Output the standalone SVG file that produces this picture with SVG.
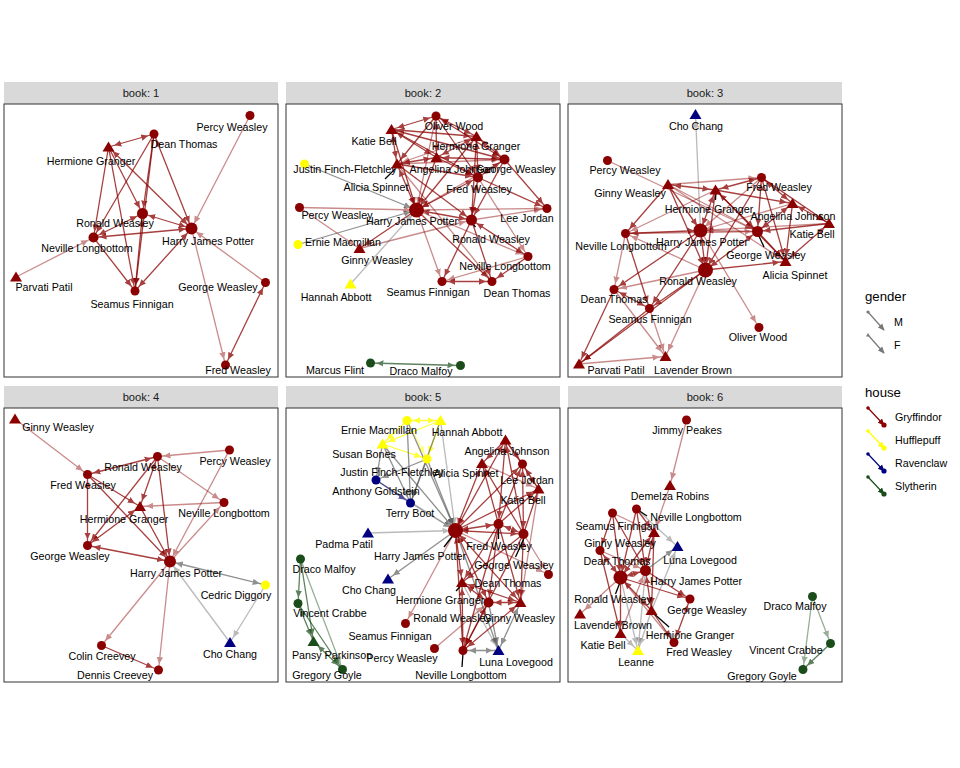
<svg xmlns="http://www.w3.org/2000/svg" xmlns:xlink="http://www.w3.org/1999/xlink" width="960" height="768" viewBox="0 0 960 768">
<style>
.strip{fill:#D9D9D9}
.panel{fill:#fff;stroke:#333;stroke-width:1}
.st{font:11.2px "Liberation Sans",Arial,sans-serif;fill:#1a1a1a;text-anchor:middle}
.l{font:10.7px "Liberation Sans",Arial,sans-serif;fill:#000;text-anchor:middle}
.lt{font:13.2px "Liberation Sans",Arial,sans-serif;fill:#000}
.li{font:10.7px "Liberation Sans",Arial,sans-serif;fill:#000}
.gry{fill:#8B0000}.huf{fill:#FFFF00}.rav{fill:#000080}.sly{fill:#1a4d1a}
#edges line{stroke-width:1.3;fill:none}
.r,.rb{stroke:#8B0000;opacity:.75;marker-end:url(#ar)}
.rl{stroke:#8B0000;opacity:.45;marker-end:url(#ar)}
.rb{marker-start:url(#ar)}
.g,.gb{stroke:#555;opacity:.65;marker-end:url(#ag)}
.gl{stroke:#555;opacity:.4;marker-end:url(#ag)}
.gb{marker-start:url(#ag)}
.y,.yb{stroke:#FFFF00;opacity:.8;marker-end:url(#ay)}
.yl{stroke:#FFFF00;opacity:.5;marker-end:url(#ay)}
.yb{marker-start:url(#ay)}
.b{stroke:#000080;opacity:.7;marker-end:url(#ab)}
.s,.sb{stroke:#1a4d1a;opacity:.7;marker-end:url(#as)}
.sl{stroke:#1a4d1a;opacity:.45;marker-end:url(#as)}
.sb{marker-start:url(#as)}
.ld{stroke:#000;stroke-width:1}
</style>
<defs>
<path id="t" d="M0,-5.5 L6,4.5 L-6,4.5 z"/>
<marker id="ar" viewBox="0 0 14 8" refX="13" refY="4" markerWidth="14" markerHeight="8" markerUnits="userSpaceOnUse" orient="auto-start-reverse"><path d="M0,0.8 L7,4 L0,7.2 z" fill="#8B0000"/></marker>
<marker id="ag" viewBox="0 0 14 8" refX="13" refY="4" markerWidth="14" markerHeight="8" markerUnits="userSpaceOnUse" orient="auto-start-reverse"><path d="M0,0.8 L7,4 L0,7.2 z" fill="#555"/></marker>
<marker id="ay" viewBox="0 0 14 8" refX="13" refY="4" markerWidth="14" markerHeight="8" markerUnits="userSpaceOnUse" orient="auto-start-reverse"><path d="M0,0.8 L7,4 L0,7.2 z" fill="#FFFF00"/></marker>
<marker id="ab" viewBox="0 0 14 8" refX="13" refY="4" markerWidth="14" markerHeight="8" markerUnits="userSpaceOnUse" orient="auto-start-reverse"><path d="M0,0.8 L7,4 L0,7.2 z" fill="#000080"/></marker>
<marker id="as" viewBox="0 0 14 8" refX="13" refY="4" markerWidth="14" markerHeight="8" markerUnits="userSpaceOnUse" orient="auto-start-reverse"><path d="M0,0.8 L7,4 L0,7.2 z" fill="#1a4d1a"/></marker>
<marker id="kar" viewBox="0 0 8 8" refX="7" refY="4" markerWidth="7" markerHeight="7" markerUnits="userSpaceOnUse" orient="auto"><path d="M0,0.5 L8,4 L0,7.5 z" fill="context-stroke"/></marker>
</defs>
<rect width="960" height="768" fill="#fff"/>

<g id="panels">
<rect class="strip" x="4" y="82" width="274" height="22"/><text class="st" x="141" y="97">book: 1</text>
<rect class="strip" x="286" y="82" width="274" height="22"/><text class="st" x="423" y="97">book: 2</text>
<rect class="strip" x="568" y="82" width="274" height="22"/><text class="st" x="705" y="97">book: 3</text>
<rect class="strip" x="4" y="386" width="274" height="22"/><text class="st" x="141" y="401">book: 4</text>
<rect class="strip" x="286" y="386" width="274" height="22"/><text class="st" x="423" y="401">book: 5</text>
<rect class="strip" x="568" y="386" width="274" height="22"/><text class="st" x="705" y="401">book: 6</text>
<rect class="panel" x="4" y="104" width="274" height="273"/>
<rect class="panel" x="286" y="104" width="274" height="273"/>
<rect class="panel" x="568" y="104" width="274" height="273"/>
<rect class="panel" x="4" y="408" width="274" height="274"/>
<rect class="panel" x="286" y="408" width="274" height="274"/>
<rect class="panel" x="568" y="408" width="274" height="274"/>
</g>

<g id="edges">
<!-- book 1 -->
<line class="rb" x1="154" y1="134" x2="108.5" y2="147"/>
<line class="r" x1="154" y1="134" x2="142.5" y2="213.5"/>
<line class="rb" x1="154" y1="134" x2="191.5" y2="228.5"/>
<line class="r" x1="154" y1="134" x2="135" y2="291"/>
<line class="r" x1="154" y1="134" x2="93.5" y2="237.5"/>
<line class="r" x1="108.5" y1="147" x2="93.5" y2="237.5"/>
<line class="r" x1="108.5" y1="147" x2="142.5" y2="213.5"/>
<line class="rb" x1="108.5" y1="147" x2="191.5" y2="228.5"/>
<line class="r" x1="108.5" y1="147" x2="135" y2="291"/>
<line class="rb" x1="142.5" y1="213.5" x2="191.5" y2="228.5"/>
<line class="rb" x1="93.5" y1="237.5" x2="142.5" y2="213.5"/>
<line class="rb" x1="142.5" y1="213.5" x2="135" y2="291"/>
<line class="rb" x1="93.5" y1="237.5" x2="191.5" y2="228.5"/>
<line class="r" x1="93.5" y1="237.5" x2="135" y2="291"/>
<line class="rb" x1="191.5" y1="228.5" x2="135" y2="291"/>
<line class="rl" x1="250" y1="115.5" x2="191.5" y2="228.5"/>
<line class="rl" x1="16" y1="277" x2="93.5" y2="237.5"/>
<line class="rl" x1="265.5" y1="282.5" x2="191.5" y2="228.5"/>
<line class="rl" x1="191.5" y1="228.5" x2="225.5" y2="365"/>
<line class="rb" x1="225.5" y1="365" x2="265.5" y2="282.5"/>
<!-- book 2 -->
<line class="rb" x1="391.5" y1="129.5" x2="436" y2="116"/>
<line class="rb" x1="391.5" y1="129.5" x2="476.5" y2="136.5"/>
<line class="rb" x1="391.5" y1="129.5" x2="436.5" y2="157.5"/>
<line class="r" x1="391.5" y1="129.5" x2="504.5" y2="159.5"/>
<line class="r" x1="391.5" y1="129.5" x2="478" y2="177.5"/>
<line class="rb" x1="391.5" y1="129.5" x2="397" y2="164"/>
<line class="r" x1="391.5" y1="129.5" x2="416.5" y2="210"/>
<line class="rb" x1="436" y1="116" x2="476.5" y2="136.5"/>
<line class="rb" x1="436" y1="116" x2="436.5" y2="157.5"/>
<line class="rb" x1="436" y1="116" x2="504.5" y2="159.5"/>
<line class="r" x1="436" y1="116" x2="478" y2="177.5"/>
<line class="r" x1="436" y1="116" x2="397" y2="164"/>
<line class="rl" x1="436" y1="116" x2="416.5" y2="210"/>
<line class="rb" x1="476.5" y1="136.5" x2="504.5" y2="159.5"/>
<line class="rb" x1="476.5" y1="136.5" x2="478" y2="177.5"/>
<line class="rb" x1="476.5" y1="136.5" x2="436.5" y2="157.5"/>
<line class="rb" x1="476.5" y1="136.5" x2="416.5" y2="210"/>
<line class="r" x1="476.5" y1="136.5" x2="471.5" y2="220"/>
<line class="rl" x1="476.5" y1="136.5" x2="397" y2="164"/>
<line class="rb" x1="436.5" y1="157.5" x2="504.5" y2="159.5"/>
<line class="rb" x1="436.5" y1="157.5" x2="397" y2="164"/>
<line class="r" x1="436.5" y1="157.5" x2="478" y2="177.5"/>
<line class="r" x1="436.5" y1="157.5" x2="416.5" y2="210"/>
<line class="rl" x1="397" y1="164" x2="504.5" y2="159.5"/>
<line class="r" x1="397" y1="164" x2="478" y2="177.5"/>
<line class="rb" x1="397" y1="164" x2="416.5" y2="210"/>
<line class="r" x1="397" y1="164" x2="471.5" y2="220"/>
<line class="rl" x1="397" y1="164" x2="492" y2="281.5"/>
<line class="rb" x1="504.5" y1="159.5" x2="478" y2="177.5"/>
<line class="r" x1="504.5" y1="159.5" x2="547" y2="208.5"/>
<line class="rl" x1="504.5" y1="159.5" x2="416.5" y2="210"/>
<line class="r" x1="504.5" y1="159.5" x2="471.5" y2="220"/>
<line class="rb" x1="478" y1="177.5" x2="416.5" y2="210"/>
<line class="rb" x1="478" y1="177.5" x2="471.5" y2="220"/>
<line class="r" x1="478" y1="177.5" x2="547" y2="208.5"/>
<line class="rl" x1="478" y1="177.5" x2="528" y2="256.5"/>
<line class="rb" x1="416.5" y1="210" x2="471.5" y2="220"/>
<line class="rl" x1="416.5" y1="210" x2="547" y2="208.5"/>
<line class="rl" x1="471.5" y1="220" x2="547" y2="208.5"/>
<line class="r" x1="416.5" y1="210" x2="359.5" y2="248.5"/>
<line class="rl" x1="299.5" y1="207.5" x2="416.5" y2="210"/>
<line class="rl" x1="299.5" y1="207.5" x2="359.5" y2="248.5"/>
<line class="rl" x1="359.5" y1="248.5" x2="471.5" y2="220"/>
<line class="rl" x1="416.5" y1="210" x2="442" y2="281.5"/>
<line class="r" x1="416.5" y1="210" x2="492" y2="281.5"/>
<line class="rl" x1="416.5" y1="210" x2="528" y2="256.5"/>
<line class="r" x1="471.5" y1="220" x2="442" y2="281.5"/>
<line class="r" x1="471.5" y1="220" x2="492" y2="281.5"/>
<line class="rb" x1="471.5" y1="220" x2="528" y2="256.5"/>
<line class="rl" x1="528" y1="256.5" x2="442" y2="281.5"/>
<line class="r" x1="528" y1="256.5" x2="492" y2="281.5"/>
<line class="rb" x1="442" y1="281.5" x2="492" y2="281.5"/>
<line class="g" x1="304.5" y1="164" x2="416.5" y2="210"/>
<line class="g" x1="298" y1="244.5" x2="416.5" y2="210"/>
<line class="gl" x1="350.5" y1="284" x2="416.5" y2="210"/>
<line class="sb" x1="370.5" y1="363" x2="460.5" y2="365.5"/>
<!-- book 3 -->
<line class="gl" x1="700.5" y1="230.5" x2="695.5" y2="114.5"/>
<line class="rl" x1="607.5" y1="160.5" x2="757.5" y2="231.5"/>
<line class="rb" x1="668" y1="184.5" x2="715.5" y2="190"/>
<line class="rl" x1="668" y1="184.5" x2="761.5" y2="177.5"/>
<line class="r" x1="668" y1="184.5" x2="625.5" y2="233.5"/>
<line class="r" x1="668" y1="184.5" x2="700.5" y2="230.5"/>
<line class="r" x1="668" y1="184.5" x2="705.5" y2="270"/>
<line class="rl" x1="668" y1="184.5" x2="757.5" y2="231.5"/>
<line class="rl" x1="668" y1="184.5" x2="785.5" y2="261.5"/>
<line class="rb" x1="715.5" y1="190" x2="761.5" y2="177.5"/>
<line class="rb" x1="715.5" y1="190" x2="700.5" y2="230.5"/>
<line class="r" x1="715.5" y1="190" x2="705.5" y2="270"/>
<line class="rb" x1="715.5" y1="190" x2="757.5" y2="231.5"/>
<line class="r" x1="715.5" y1="190" x2="792.5" y2="203.5"/>
<line class="r" x1="715.5" y1="190" x2="785.5" y2="261.5"/>
<line class="rl" x1="715.5" y1="190" x2="625.5" y2="233.5"/>
<line class="rb" x1="761.5" y1="177.5" x2="757.5" y2="231.5"/>
<line class="rb" x1="761.5" y1="177.5" x2="792.5" y2="203.5"/>
<line class="r" x1="761.5" y1="177.5" x2="829" y2="223.5"/>
<line class="r" x1="761.5" y1="177.5" x2="785.5" y2="261.5"/>
<line class="r" x1="761.5" y1="177.5" x2="705.5" y2="270"/>
<line class="rl" x1="761.5" y1="177.5" x2="700.5" y2="230.5"/>
<line class="rb" x1="792.5" y1="203.5" x2="757.5" y2="231.5"/>
<line class="rb" x1="792.5" y1="203.5" x2="829" y2="223.5"/>
<line class="r" x1="792.5" y1="203.5" x2="785.5" y2="261.5"/>
<line class="rl" x1="792.5" y1="203.5" x2="700.5" y2="230.5"/>
<line class="rb" x1="829" y1="223.5" x2="785.5" y2="261.5"/>
<line class="rl" x1="829" y1="223.5" x2="700.5" y2="230.5"/>
<line class="r" x1="829" y1="223.5" x2="757.5" y2="231.5"/>
<line class="r" x1="757.5" y1="231.5" x2="785.5" y2="261.5"/>
<line class="rb" x1="757.5" y1="231.5" x2="705.5" y2="270"/>
<line class="rl" x1="757.5" y1="231.5" x2="700.5" y2="230.5"/>
<line class="rb" x1="700.5" y1="230.5" x2="705.5" y2="270"/>
<line class="rb" x1="700.5" y1="230.5" x2="625.5" y2="233.5"/>
<line class="r" x1="700.5" y1="230.5" x2="614" y2="289.5"/>
<line class="r" x1="700.5" y1="230.5" x2="649.5" y2="308.5"/>
<line class="rl" x1="700.5" y1="230.5" x2="759" y2="327.5"/>
<line class="rl" x1="705.5" y1="270" x2="625.5" y2="233.5"/>
<line class="rl" x1="705.5" y1="270" x2="614" y2="289.5"/>
<line class="r" x1="705.5" y1="270" x2="649.5" y2="308.5"/>
<line class="rl" x1="705.5" y1="270" x2="665.5" y2="356.5"/>
<line class="r" x1="705.5" y1="270" x2="785.5" y2="261.5"/>
<line class="r" x1="705.5" y1="270" x2="579" y2="364"/>
<line class="rl" x1="625.5" y1="233.5" x2="614" y2="289.5"/>
<line class="r" x1="625.5" y1="233.5" x2="649.5" y2="308.5"/>
<line class="rl" x1="625.5" y1="233.5" x2="757.5" y2="231.5"/>
<line class="rb" x1="614" y1="289.5" x2="649.5" y2="308.5"/>
<line class="r" x1="614" y1="289.5" x2="579" y2="364"/>
<line class="rl" x1="614" y1="289.5" x2="665.5" y2="356.5"/>
<line class="r" x1="649.5" y1="308.5" x2="579" y2="364"/>
<line class="rl" x1="649.5" y1="308.5" x2="665.5" y2="356.5"/>
<line class="rl" x1="579" y1="364" x2="665.5" y2="356.5"/>
<!-- book 4 -->
<line class="rl" x1="15" y1="419" x2="87.5" y2="474.5"/>
<line class="rb" x1="87.5" y1="474.5" x2="157.5" y2="456.5"/>
<line class="rl" x1="229.5" y1="450" x2="157.5" y2="456.5"/>
<line class="rl" x1="157.5" y1="456.5" x2="224" y2="502.5"/>
<line class="rb" x1="157.5" y1="456.5" x2="140" y2="506.5"/>
<line class="r" x1="157.5" y1="456.5" x2="87.5" y2="545.5"/>
<line class="r" x1="157.5" y1="456.5" x2="170" y2="561.5"/>
<line class="r" x1="87.5" y1="474.5" x2="140" y2="506.5"/>
<line class="rb" x1="87.5" y1="474.5" x2="87.5" y2="545.5"/>
<line class="r" x1="87.5" y1="474.5" x2="170" y2="561.5"/>
<line class="rl" x1="224" y1="502.5" x2="140" y2="506.5"/>
<line class="rb" x1="140" y1="506.5" x2="87.5" y2="545.5"/>
<line class="r" x1="140" y1="506.5" x2="170" y2="561.5"/>
<line class="rb" x1="87.5" y1="545.5" x2="170" y2="561.5"/>
<line class="rl" x1="170" y1="561.5" x2="224" y2="502.5"/>
<line class="rl" x1="229.5" y1="450" x2="170" y2="561.5"/>
<line class="gb" x1="170" y1="561.5" x2="265.5" y2="585"/>
<line class="gl" x1="265.5" y1="585" x2="230" y2="642.5"/>
<line class="gl" x1="230" y1="642.5" x2="170" y2="561.5"/>
<line class="rl" x1="170" y1="561.5" x2="101.5" y2="645.5"/>
<line class="rl" x1="170" y1="561.5" x2="158.5" y2="670"/>
<line class="r" x1="101.5" y1="645.5" x2="158.5" y2="670"/>
<!-- book 5 -->
<line class="yb" x1="407" y1="420.5" x2="440.5" y2="420.5"/>
<line class="y" x1="407" y1="420.5" x2="382.5" y2="444"/>
<line class="y" x1="440.5" y1="420.5" x2="382.5" y2="444"/>
<line class="y" x1="440.5" y1="420.5" x2="427" y2="459"/>
<line class="y" x1="382.5" y1="444" x2="427" y2="459"/>
<line class="yl" x1="407" y1="420.5" x2="427" y2="459"/>
<line class="g" x1="407" y1="420.5" x2="410.5" y2="503"/>
<line class="g" x1="407" y1="420.5" x2="455.5" y2="530.5"/>
<line class="gl" x1="440.5" y1="420.5" x2="455.5" y2="530.5"/>
<line class="g" x1="440.5" y1="420.5" x2="410.5" y2="503"/>
<line class="g" x1="382.5" y1="444" x2="410.5" y2="503"/>
<line class="g" x1="382.5" y1="444" x2="455.5" y2="530.5"/>
<line class="g" x1="382.5" y1="444" x2="376" y2="480"/>
<line class="g" x1="427" y1="459" x2="410.5" y2="503"/>
<line class="g" x1="427" y1="459" x2="455.5" y2="530.5"/>
<line class="g" x1="427" y1="459" x2="376" y2="480"/>
<line class="gl" x1="410.5" y1="503" x2="455.5" y2="530.5"/>
<line class="b" x1="376" y1="480" x2="410.5" y2="503"/>
<line class="gl" x1="376" y1="480" x2="455.5" y2="530.5"/>
<line class="gl" x1="368" y1="533" x2="455.5" y2="530.5"/>
<line class="g" x1="455.5" y1="530.5" x2="388" y2="579"/>
<line class="g" x1="455.5" y1="530.5" x2="498.5" y2="650.5"/>
<line class="gl" x1="462" y1="582.5" x2="498.5" y2="650.5"/>
<line class="g" x1="488.5" y1="602.5" x2="498.5" y2="650.5"/>
<line class="gb" x1="520.5" y1="602.5" x2="498.5" y2="650.5"/>
<line class="gb" x1="463" y1="650.5" x2="498.5" y2="650.5"/>
<line class="rb" x1="455.5" y1="530.5" x2="505.5" y2="440"/>
<line class="rb" x1="455.5" y1="530.5" x2="482" y2="463.5"/>
<line class="r" x1="455.5" y1="530.5" x2="522.5" y2="464"/>
<line class="r" x1="455.5" y1="530.5" x2="538.5" y2="489"/>
<line class="rb" x1="455.5" y1="530.5" x2="498.5" y2="524"/>
<line class="rb" x1="455.5" y1="530.5" x2="523.5" y2="534"/>
<line class="rb" x1="455.5" y1="530.5" x2="462" y2="582.5"/>
<line class="rb" x1="455.5" y1="530.5" x2="488.5" y2="602.5"/>
<line class="rb" x1="455.5" y1="530.5" x2="520.5" y2="602.5"/>
<line class="r" x1="455.5" y1="530.5" x2="463" y2="650.5"/>
<line class="rl" x1="455.5" y1="530.5" x2="405.5" y2="623.5"/>
<line class="rl" x1="455.5" y1="530.5" x2="548.5" y2="574.5"/>
<line class="rb" x1="498.5" y1="524" x2="523.5" y2="534"/>
<line class="rb" x1="498.5" y1="524" x2="505.5" y2="440"/>
<line class="r" x1="498.5" y1="524" x2="482" y2="463.5"/>
<line class="r" x1="498.5" y1="524" x2="522.5" y2="464"/>
<line class="r" x1="498.5" y1="524" x2="538.5" y2="489"/>
<line class="r" x1="523.5" y1="534" x2="505.5" y2="440"/>
<line class="rb" x1="523.5" y1="534" x2="522.5" y2="464"/>
<line class="r" x1="523.5" y1="534" x2="538.5" y2="489"/>
<line class="r" x1="523.5" y1="534" x2="482" y2="463.5"/>
<line class="r" x1="505.5" y1="440" x2="482" y2="463.5"/>
<line class="rl" x1="505.5" y1="440" x2="538.5" y2="489"/>
<line class="rl" x1="482" y1="463.5" x2="538.5" y2="489"/>
<line class="rb" x1="522.5" y1="464" x2="538.5" y2="489"/>
<line class="r" x1="505.5" y1="440" x2="522.5" y2="464"/>
<line class="rl" x1="523.5" y1="534" x2="548.5" y2="574.5"/>
<line class="r" x1="498.5" y1="524" x2="462" y2="582.5"/>
<line class="r" x1="523.5" y1="534" x2="462" y2="582.5"/>
<line class="r" x1="498.5" y1="524" x2="520.5" y2="602.5"/>
<line class="rb" x1="523.5" y1="534" x2="520.5" y2="602.5"/>
<line class="r" x1="498.5" y1="524" x2="488.5" y2="602.5"/>
<line class="r" x1="523.5" y1="534" x2="463" y2="650.5"/>
<line class="rl" x1="538.5" y1="489" x2="520.5" y2="602.5"/>
<line class="rb" x1="462" y1="582.5" x2="488.5" y2="602.5"/>
<line class="rb" x1="462" y1="582.5" x2="520.5" y2="602.5"/>
<line class="rb" x1="488.5" y1="602.5" x2="520.5" y2="602.5"/>
<line class="rb" x1="463" y1="650.5" x2="488.5" y2="602.5"/>
<line class="r" x1="463" y1="650.5" x2="462" y2="582.5"/>
<line class="rb" x1="463" y1="650.5" x2="520.5" y2="602.5"/>
<line class="r" x1="498.5" y1="524" x2="463" y2="650.5"/>
<line class="rl" x1="434.5" y1="648.5" x2="488.5" y2="602.5"/>
<line class="s" x1="300.5" y1="559" x2="298" y2="603.5"/>
<line class="s" x1="300.5" y1="559" x2="313.5" y2="641.5"/>
<line class="sl" x1="300.5" y1="559" x2="342.5" y2="669.5"/>
<line class="sb" x1="298" y1="603.5" x2="313.5" y2="641.5"/>
<line class="s" x1="298" y1="603.5" x2="342.5" y2="669.5"/>
<line class="sb" x1="313.5" y1="641.5" x2="342.5" y2="669.5"/>
<!-- book 6 -->
<line class="rl" x1="686.5" y1="420" x2="670" y2="485.5"/>
<line class="rl" x1="670" y1="485.5" x2="654" y2="532.5"/>
<line class="r" x1="636.5" y1="509" x2="654" y2="532.5"/>
<line class="gl" x1="636.5" y1="509" x2="677.5" y2="546.5"/>
<line class="r" x1="636.5" y1="509" x2="620.5" y2="577.5"/>
<line class="r" x1="636.5" y1="509" x2="645.5" y2="570.5"/>
<line class="r" x1="612.5" y1="513" x2="600" y2="550.5"/>
<line class="r" x1="612.5" y1="513" x2="620.5" y2="577.5"/>
<line class="r" x1="612.5" y1="513" x2="645.5" y2="570.5"/>
<line class="rl" x1="612.5" y1="513" x2="654" y2="532.5"/>
<line class="rb" x1="654" y1="532.5" x2="645.5" y2="570.5"/>
<line class="rb" x1="654" y1="532.5" x2="620.5" y2="577.5"/>
<line class="r" x1="654" y1="532.5" x2="651.5" y2="610.5"/>
<line class="rb" x1="600" y1="550.5" x2="620.5" y2="577.5"/>
<line class="rl" x1="600" y1="550.5" x2="645.5" y2="570.5"/>
<line class="r" x1="600" y1="550.5" x2="620.5" y2="633.5"/>
<line class="rb" x1="645.5" y1="570.5" x2="620.5" y2="577.5"/>
<line class="g" x1="645.5" y1="570.5" x2="677.5" y2="546.5"/>
<line class="gl" x1="651.5" y1="610.5" x2="677.5" y2="546.5"/>
<line class="r" x1="645.5" y1="570.5" x2="690" y2="599"/>
<line class="r" x1="620.5" y1="577.5" x2="690" y2="599"/>
<line class="rb" x1="690" y1="599" x2="674" y2="642.5"/>
<line class="r" x1="651.5" y1="610.5" x2="674" y2="642.5"/>
<line class="rb" x1="651.5" y1="610.5" x2="620.5" y2="577.5"/>
<line class="rb" x1="651.5" y1="610.5" x2="645.5" y2="570.5"/>
<line class="rl" x1="620.5" y1="577.5" x2="580" y2="614"/>
<line class="r" x1="620.5" y1="577.5" x2="620.5" y2="633.5"/>
<line class="rl" x1="620.5" y1="633.5" x2="645.5" y2="570.5"/>
<line class="gl" x1="620.5" y1="633.5" x2="638" y2="650.5"/>
<line class="gl" x1="645.5" y1="570.5" x2="638" y2="650.5"/>
<line class="gl" x1="620.5" y1="577.5" x2="638" y2="650.5"/>
<line class="gl" x1="651.5" y1="610.5" x2="638" y2="650.5"/>
<line class="rl" x1="620.5" y1="577.5" x2="674" y2="642.5"/>
<line class="sl" x1="812.5" y1="596.5" x2="830.5" y2="643.5"/>
<line class="sl" x1="812.5" y1="596.5" x2="803" y2="669.5"/>
<line class="s" x1="830.5" y1="643.5" x2="803" y2="669.5"/>
<!-- label leaders -->
<line class="ld" x1="385" y1="179" x2="395" y2="169"/>
<line class="ld" x1="471.5" y1="222.5" x2="475.5" y2="227"/>
<line class="ld" x1="716" y1="191" x2="715.5" y2="200"/>
<line class="ld" x1="758" y1="234" x2="764" y2="247"/>
<line class="ld" x1="454" y1="534" x2="444" y2="547"/>
<line class="ld" x1="498.5" y1="526" x2="498.5" y2="539"/>
<line class="ld" x1="525" y1="536" x2="515.5" y2="557"/>
<line class="ld" x1="463.5" y1="583" x2="456" y2="591"/>
<line class="ld" x1="463" y1="653" x2="462" y2="667"/>
<line class="ld" x1="638" y1="510" x2="647" y2="516"/>
<line class="ld" x1="620.5" y1="581" x2="615.5" y2="594"/>
<line class="ld" x1="652" y1="612" x2="669" y2="627"/>
</g>

<g id="nodes">
<!-- book 1 -->
<g id="b1-dean"><circle class="gry" cx="154" cy="134" r="4.5"/><text class="l" x="184" y="148">Dean Thomas</text></g>
<g id="b1-percy"><circle class="gry" cx="250" cy="115.5" r="4.5"/><text class="l" x="232" y="131">Percy Weasley</text></g>
<g id="b1-hermione"><use href="#t" x="108.5" y="147" class="gry"/><text class="l" x="91" y="165">Hermione Granger</text></g>
<g id="b1-ronald"><circle class="gry" cx="142.5" cy="213.5" r="5.5"/><text class="l" x="115" y="227">Ronald Weasley</text></g>
<g id="b1-harry"><circle class="gry" cx="191.5" cy="228.5" r="6"/><text class="l" x="208" y="245">Harry James Potter</text></g>
<g id="b1-neville"><circle class="gry" cx="93.5" cy="237.5" r="5"/><text class="l" x="87" y="252">Neville Longbottom</text></g>
<g id="b1-parvati"><use href="#t" x="16" y="277" class="gry"/><text class="l" x="44" y="291">Parvati Patil</text></g>
<g id="b1-seamus"><circle class="gry" cx="135" cy="291" r="4.5"/><text class="l" x="132" y="308">Seamus Finnigan</text></g>
<g id="b1-george"><circle class="gry" cx="265.5" cy="282.5" r="4.5"/><text class="l" x="218" y="291">George Weasley</text></g>
<g id="b1-fred"><circle class="gry" cx="225.5" cy="365" r="4.5"/><text class="l" x="238" y="374">Fred Weasley</text></g>
<!-- book 2 -->
<g id="b2-oliver"><circle class="gry" cx="436" cy="116" r="4.5"/><text class="l" x="454" y="130">Oliver Wood</text></g>
<g id="b2-katie"><use href="#t" x="391.5" y="129.5" class="gry"/><text class="l" x="374" y="145">Katie Bell</text></g>
<g id="b2-hermione"><use href="#t" x="476.5" y="136.5" class="gry"/><text class="l" x="476" y="150">Hermione Granger</text></g>
<g id="b2-justin"><circle class="huf" cx="304.5" cy="164" r="4.5"/><text class="l" x="345" y="173">Justin Finch-Fletchley</text></g>
<g id="b2-angelina"><use href="#t" x="436.5" y="157.5" class="gry"/><text class="l" x="452" y="173">Angelina Johnson</text></g>
<g id="b2-george"><circle class="gry" cx="504.5" cy="159.5" r="5"/><text class="l" x="516" y="173">George Weasley</text></g>
<g id="b2-alicia"><use href="#t" x="397" y="164" class="gry"/><text class="l" x="376" y="191">Alicia Spinnet</text></g>
<g id="b2-fred"><circle class="gry" cx="478" cy="177.5" r="5"/><text class="l" x="479" y="193">Fred Weasley</text></g>
<g id="b2-percy"><circle class="gry" cx="299.5" cy="207.5" r="4.5"/><text class="l" x="337" y="219">Percy Weasley</text></g>
<g id="b2-harry"><circle class="gry" cx="416.5" cy="210" r="7.5"/><text class="l" x="412" y="225">Harry James Potter</text></g>
<g id="b2-lee"><circle class="gry" cx="547" cy="208.5" r="4.5"/><text class="l" x="527" y="222">Lee Jordan</text></g>
<g id="b2-ronald"><circle class="gry" cx="471.5" cy="220" r="5.5"/><text class="l" x="491" y="243">Ronald Weasley</text></g>
<g id="b2-ernie"><circle class="huf" cx="298" cy="244.5" r="4.5"/><text class="l" x="343" y="246">Ernie Macmillan</text></g>
<g id="b2-ginny"><use href="#t" x="359.5" y="248.5" class="gry"/><text class="l" x="377" y="264">Ginny Weasley</text></g>
<g id="b2-neville"><circle class="gry" cx="528" cy="256.5" r="4.5"/><text class="l" x="505" y="270">Neville Longbottom</text></g>
<g id="b2-hannah"><use href="#t" x="350.5" y="284" class="huf"/><text class="l" x="336" y="301">Hannah Abbott</text></g>
<g id="b2-seamus"><circle class="gry" cx="442" cy="281.5" r="4.5"/><text class="l" x="428" y="296">Seamus Finnigan</text></g>
<g id="b2-dean"><circle class="gry" cx="492" cy="281.5" r="4.5"/><text class="l" x="517" y="297">Dean Thomas</text></g>
<g id="b2-marcus"><circle class="sly" cx="370.5" cy="363" r="4.5"/><text class="l" x="335" y="374">Marcus Flint</text></g>
<g id="b2-draco"><circle class="sly" cx="460.5" cy="365.5" r="4.5"/><text class="l" x="421" y="375">Draco Malfoy</text></g>
<!-- book 3 -->
<g id="b3-cho"><use href="#t" x="695.5" y="114.5" class="rav"/><text class="l" x="696" y="130">Cho Chang</text></g>
<g id="b3-percy"><circle class="gry" cx="607.5" cy="160.5" r="4.5"/><text class="l" x="625" y="174">Percy Weasley</text></g>
<g id="b3-ginny"><use href="#t" x="668" y="184.5" class="gry"/><text class="l" x="630" y="197">Ginny Weasley</text></g>
<g id="b3-fred"><circle class="gry" cx="761.5" cy="177.5" r="4.5"/><text class="l" x="779" y="191">Fred Weasley</text></g>
<g id="b3-hermione"><use href="#t" x="715.5" y="190" class="gry"/><text class="l" x="709" y="213">Hermione Granger</text></g>
<g id="b3-angelina"><use href="#t" x="792.5" y="203.5" class="gry"/><text class="l" x="793" y="220">Angelina Johnson</text></g>
<g id="b3-katie"><use href="#t" x="829" y="223.5" class="gry"/><text class="l" x="812" y="238">Katie Bell</text></g>
<g id="b3-neville"><circle class="gry" cx="625.5" cy="233.5" r="4.5"/><text class="l" x="621" y="250">Neville Longbottom</text></g>
<g id="b3-harry"><circle class="gry" cx="700.5" cy="230.5" r="7"/><text class="l" x="702" y="246">Harry James Potter</text></g>
<g id="b3-george"><circle class="gry" cx="757.5" cy="231.5" r="5.5"/><text class="l" x="766" y="259">George Weasley</text></g>
<g id="b3-alicia"><use href="#t" x="785.5" y="261.5" class="gry"/><text class="l" x="795" y="279">Alicia Spinnet</text></g>
<g id="b3-ronald"><circle class="gry" cx="705.5" cy="270" r="7.5"/><text class="l" x="698" y="285">Ronald Weasley</text></g>
<g id="b3-dean"><circle class="gry" cx="614" cy="289.5" r="4.5"/><text class="l" x="614" y="303">Dean Thomas</text></g>
<g id="b3-seamus"><circle class="gry" cx="649.5" cy="308.5" r="4.5"/><text class="l" x="650" y="323">Seamus Finnigan</text></g>
<g id="b3-oliver"><circle class="gry" cx="759" cy="327.5" r="4.5"/><text class="l" x="758" y="341">Oliver Wood</text></g>
<g id="b3-parvati"><use href="#t" x="579" y="364" class="gry"/><text class="l" x="616" y="374">Parvati Patil</text></g>
<g id="b3-lavender"><use href="#t" x="665.5" y="356.5" class="gry"/><text class="l" x="693" y="374">Lavender Brown</text></g>
<!-- book 4 -->
<g id="b4-ginny"><use href="#t" x="15" y="419" class="gry"/><text class="l" x="58" y="431">Ginny Weasley</text></g>
<g id="b4-percy"><circle class="gry" cx="229.5" cy="450" r="4.5"/><text class="l" x="235" y="465">Percy Weasley</text></g>
<g id="b4-ronald"><circle class="gry" cx="157.5" cy="456.5" r="4.5"/><text class="l" x="143" y="471">Ronald Weasley</text></g>
<g id="b4-fred"><circle class="gry" cx="87.5" cy="474.5" r="4.5"/><text class="l" x="83" y="489">Fred Weasley</text></g>
<g id="b4-neville"><circle class="gry" cx="224" cy="502.5" r="4.5"/><text class="l" x="224" y="517">Neville Longbottom</text></g>
<g id="b4-hermione"><use href="#t" x="140" y="506.5" class="gry"/><text class="l" x="124" y="523">Hermione Granger</text></g>
<g id="b4-george"><circle class="gry" cx="87.5" cy="545.5" r="4.5"/><text class="l" x="70" y="560">George Weasley</text></g>
<g id="b4-harry"><circle class="gry" cx="170" cy="561.5" r="6"/><text class="l" x="176" y="577">Harry James Potter</text></g>
<g id="b4-cedric"><circle class="huf" cx="265.5" cy="585" r="4.5"/><text class="l" x="236" y="599">Cedric Diggory</text></g>
<g id="b4-cho"><use href="#t" x="230" y="642.5" class="rav"/><text class="l" x="230" y="658">Cho Chang</text></g>
<g id="b4-colin"><circle class="gry" cx="101.5" cy="645.5" r="4.5"/><text class="l" x="102" y="660">Colin Creevey</text></g>
<g id="b4-dennis"><circle class="gry" cx="158.5" cy="670" r="4.5"/><text class="l" x="115" y="679">Dennis Creevey</text></g>
<!-- book 5 -->
<g id="b5-ernie"><circle class="huf" cx="407" cy="420.5" r="4.5"/><text class="l" x="379" y="434">Ernie Macmillan</text></g>
<g id="b5-hannah"><use href="#t" x="440.5" y="420.5" class="huf"/><text class="l" x="467" y="436">Hannah Abbott</text></g>
<g id="b5-susan"><use href="#t" x="382.5" y="444" class="huf"/><text class="l" x="364" y="458">Susan Bones</text></g>
<g id="b5-justin"><circle class="huf" cx="427" cy="459" r="4.5"/><text class="l" x="392" y="476">Justin Finch-Fletchley</text></g>
<g id="b5-alicia"><use href="#t" x="482" y="463.5" class="gry"/><text class="l" x="466" y="477">Alicia Spinnet</text></g>
<g id="b5-angelina"><use href="#t" x="505.5" y="440" class="gry"/><text class="l" x="507" y="455">Angelina Johnson</text></g>
<g id="b5-lee"><circle class="gry" cx="522.5" cy="464" r="4.5"/><text class="l" x="527" y="484">Lee Jordan</text></g>
<g id="b5-katie"><use href="#t" x="538.5" y="489" class="gry"/><text class="l" x="523" y="504">Katie Bell</text></g>
<g id="b5-anthony"><circle class="rav" cx="376" cy="480" r="4.5"/><text class="l" x="376" y="495">Anthony Goldstein</text></g>
<g id="b5-terry"><circle class="rav" cx="410.5" cy="503" r="4.5"/><text class="l" x="410" y="517">Terry Boot</text></g>
<g id="b5-padma"><use href="#t" x="368" y="533" class="rav"/><text class="l" x="344" y="548">Padma Patil</text></g>
<g id="b5-harry"><circle class="gry" cx="455.5" cy="530.5" r="7.5"/><text class="l" x="420" y="560">Harry James Potter</text></g>
<g id="b5-fred"><circle class="gry" cx="498.5" cy="524" r="5"/><text class="l" x="499" y="550">Fred Weasley</text></g>
<g id="b5-george"><circle class="gry" cx="523.5" cy="534" r="5"/><text class="l" x="514" y="569">George Weasley</text></g>
<g id="b5-draco"><circle class="sly" cx="300.5" cy="559" r="4.5"/><text class="l" x="324" y="573">Draco Malfoy</text></g>
<g id="b5-cho"><use href="#t" x="388" y="579" class="rav"/><text class="l" x="369" y="594">Cho Chang</text></g>
<g id="b5-hermione"><use href="#t" x="462" y="582.5" class="gry"/><text class="l" x="440" y="604">Hermione Granger</text></g>
<g id="b5-dean"><circle class="gry" cx="548.5" cy="574.5" r="4.5"/><text class="l" x="508" y="587">Dean Thomas</text></g>
<g id="b5-ronald"><circle class="gry" cx="488.5" cy="602.5" r="5"/><text class="l" x="452" y="622">Ronald Weasley</text></g>
<g id="b5-ginny"><use href="#t" x="520.5" y="602.5" class="gry"/><text class="l" x="519" y="622">Ginny Weasley</text></g>
<g id="b5-vincent"><circle class="sly" cx="298" cy="603.5" r="4.5"/><text class="l" x="330" y="617">Vincent Crabbe</text></g>
<g id="b5-seamus"><circle class="gry" cx="405.5" cy="623.5" r="4.5"/><text class="l" x="390" y="640">Seamus Finnigan</text></g>
<g id="b5-pansy"><use href="#t" x="313.5" y="641.5" class="sly"/><text class="l" x="332" y="659">Pansy Parkinson</text></g>
<g id="b5-percy"><circle class="gry" cx="434.5" cy="648.5" r="4.5"/><text class="l" x="402" y="662">Percy Weasley</text></g>
<g id="b5-neville"><circle class="gry" cx="463" cy="650.5" r="4.5"/><text class="l" x="461" y="679">Neville Longbottom</text></g>
<g id="b5-luna"><use href="#t" x="498.5" y="650.5" class="rav"/><text class="l" x="516" y="666">Luna Lovegood</text></g>
<g id="b5-gregory"><circle class="sly" cx="342.5" cy="669.5" r="4.5"/><text class="l" x="327" y="679">Gregory Goyle</text></g>
<!-- book 6 -->
<g id="b6-jimmy"><circle class="gry" cx="686.5" cy="420" r="4.5"/><text class="l" x="687" y="434">Jimmy Peakes</text></g>
<g id="b6-demelza"><use href="#t" x="670" y="485.5" class="gry"/><text class="l" x="670" y="500">Demelza Robins</text></g>
<g id="b6-neville"><circle class="gry" cx="636.5" cy="509" r="4.5"/><text class="l" x="696" y="521">Neville Longbottom</text></g>
<g id="b6-seamus"><circle class="gry" cx="612.5" cy="513" r="4.5"/><text class="l" x="617" y="530">Seamus Finnigan</text></g>
<g id="b6-ginny"><use href="#t" x="654" y="532.5" class="gry"/><text class="l" x="620" y="547">Ginny Weasley</text></g>
<g id="b6-luna"><use href="#t" x="677.5" y="546.5" class="rav"/><text class="l" x="700" y="564">Luna Lovegood</text></g>
<g id="b6-dean"><circle class="gry" cx="600" cy="550.5" r="4.5"/><text class="l" x="617" y="565">Dean Thomas</text></g>
<g id="b6-harry"><circle class="gry" cx="645.5" cy="570.5" r="5.5"/><text class="l" x="696" y="585">Harry James Potter</text></g>
<g id="b6-ronald"><circle class="gry" cx="620.5" cy="577.5" r="7"/><text class="l" x="613" y="603">Ronald Weasley</text></g>
<g id="b6-george"><circle class="gry" cx="690" cy="599" r="4.5"/><text class="l" x="707" y="614">George Weasley</text></g>
<g id="b6-lavender"><use href="#t" x="580" y="614" class="gry"/><text class="l" x="613" y="629">Lavender Brown</text></g>
<g id="b6-hermione"><use href="#t" x="651.5" y="610.5" class="gry"/><text class="l" x="690" y="639">Hermione Granger</text></g>
<g id="b6-katie"><use href="#t" x="620.5" y="633.5" class="gry"/><text class="l" x="603" y="649">Katie Bell</text></g>
<g id="b6-fred"><circle class="gry" cx="674" cy="642.5" r="4.5"/><text class="l" x="699" y="656">Fred Weasley</text></g>
<g id="b6-leanne"><use href="#t" x="638" y="650.5" class="huf"/><text class="l" x="636" y="666">Leanne</text></g>
<g id="b6-draco"><circle class="sly" cx="812.5" cy="596.5" r="4.5"/><text class="l" x="795" y="610">Draco Malfoy</text></g>
<g id="b6-vincent"><circle class="sly" cx="830.5" cy="643.5" r="4.5"/><text class="l" x="786" y="654">Vincent Crabbe</text></g>
<g id="b6-gregory"><circle class="sly" cx="803" cy="669.5" r="4.5"/><text class="l" x="762" y="680">Gregory Goyle</text></g>
</g>

<g id="legend">
<text class="lt" x="865" y="301">gender</text>
<line x1="868" y1="312" x2="884" y2="330" stroke="#777" stroke-width="1.2" marker-end="url(#kar)"/>
<circle cx="868" cy="312" r="1.6" fill="#777"/>
<text class="li" x="894" y="326">M</text>
<line x1="868" y1="335" x2="884" y2="353" stroke="#777" stroke-width="1.2" marker-end="url(#kar)"/>
<path d="M868,333 L870,336.5 L866,336.5 z" fill="#777"/>
<text class="li" x="894" y="349">F</text>
<text class="lt" x="865" y="397">house</text>
<line x1="868" y1="408" x2="884" y2="425" stroke="#8B0000" stroke-width="1.2" marker-end="url(#kar)"/>
<circle cx="868" cy="408" r="1.8" fill="#8B0000"/><circle cx="884" cy="425" r="2.6" fill="#8B0000"/>
<text class="li" x="895" y="421">Gryffindor</text>
<line x1="868" y1="431" x2="884" y2="448" stroke="#FFFF00" stroke-width="1.2" marker-end="url(#kar)"/>
<circle cx="868" cy="431" r="1.8" fill="#FFFF00"/><circle cx="884" cy="448" r="2.6" fill="#FFFF00"/>
<text class="li" x="895" y="444">Hufflepuff</text>
<line x1="868" y1="454" x2="884" y2="471" stroke="#000080" stroke-width="1.2" marker-end="url(#kar)"/>
<circle cx="868" cy="454" r="1.8" fill="#000080"/><circle cx="884" cy="471" r="2.6" fill="#000080"/>
<text class="li" x="895" y="467">Ravenclaw</text>
<line x1="868" y1="477" x2="884" y2="494" stroke="#1a4d1a" stroke-width="1.2" marker-end="url(#kar)"/>
<circle cx="868" cy="477" r="1.8" fill="#1a4d1a"/><circle cx="884" cy="494" r="2.6" fill="#1a4d1a"/>
<text class="li" x="895" y="490">Slytherin</text>
</g>
</svg>
